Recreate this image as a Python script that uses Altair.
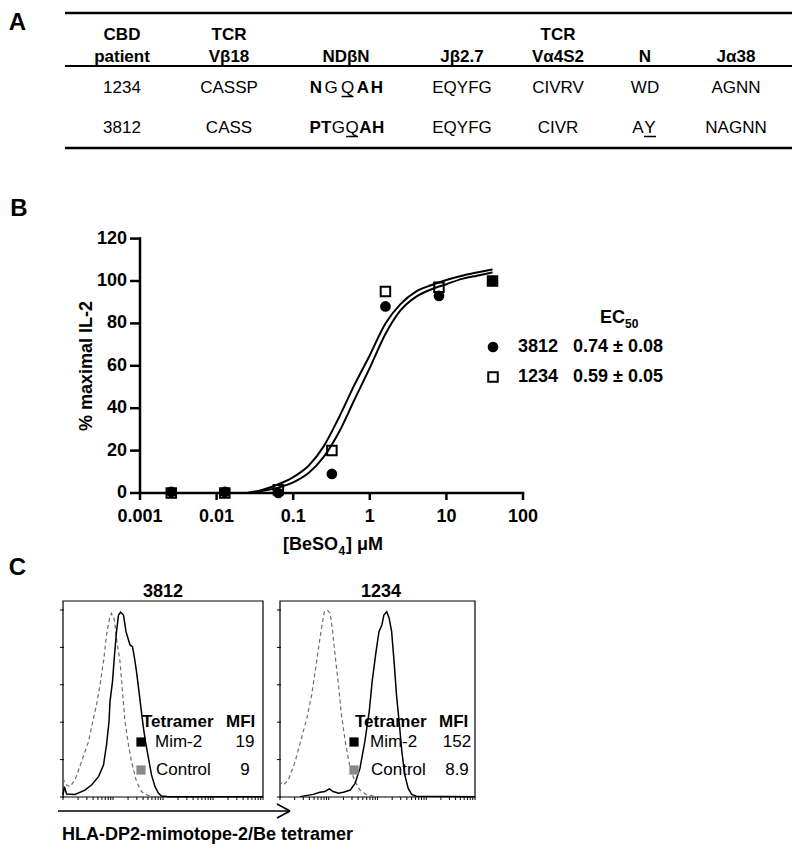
import altair as alt
import pandas as pd
import numpy as np

FONT = "Liberation Sans, Arial, Helvetica, sans-serif"
W, H = 784, 836
M = 8  # page margin


def px(v):
    return v - M


# ---------------- Panel A: table data ----------------
hdr_top = ["CBD", "TCR", "", "", "TCR", "", ""]
hdr_bot = ["patient", "Vβ18", "NDβN", "Jβ2.7", "Vα4S2", "N", "Jα38"]
row_patient = ["1234", "3812"]
row_vb18 = ["CASSP", "CASS"]
row_jb27 = ["EQYFG", "EQYFG"]
row_va4s2 = ["CIVRV", "CIVR"]
row_n = ["WD", "AY"]
row_ja38 = ["AGNN", "NAGNN"]
# rich cells: (character, bold, underlined)
nd_1234 = [("N", True, False), ("G", False, False), ("Q", False, True), ("A", True, False), ("H", True, False)]
nd_3812 = [("P", True, False), ("T", True, False), ("G", False, False), ("Q", False, True), ("A", True, False), ("H", True, False)]
n_3812 = [("A", False, False), ("Y", False, True)]

# ---------------- Panel B data ----------------
conc = [0.00256, 0.0128, 0.064, 0.32, 1.6, 8.0, 40.0]
il2_3812 = [0.5, 0.5, 0.0, 9, 88, 93, 100]
il2_1234 = [0.0, 0.0, 1.5, 20, 95, 97, 100]
fit_x_1234 = [0.025, 0.04, 0.063, 0.1, 0.16, 0.25, 0.4, 0.63, 1.0, 1.6, 2.5, 4.0, 6.3, 10, 16, 25, 40]
fit_y_1234 = [0, 1.5, 4, 7.5, 13, 22, 36, 51, 65, 80, 89, 95, 98, 100.5, 102.5, 104, 105.5]
fit_x_3812 = [0.03, 0.04, 0.063, 0.1, 0.16, 0.25, 0.4, 0.63, 1.0, 1.6, 2.5, 4.0, 6.3, 10, 16, 25, 40]
fit_y_3812 = [0, 1, 2.5, 5, 9.5, 17, 29, 44, 59, 75, 86, 92.5, 96, 98.5, 101, 102.5, 104]
xb_ticks = [0.001, 0.01, 0.1, 1, 10, 100]
xb_labels = ["0.001", "0.01", "0.1", "1", "10", "100"]
yb_ticks = [0, 20, 40, 60, 80, 100, 120]
ec_ids = ["3812", "1234"]
ec_vals = ["0.74 ± 0.08", "0.59 ± 0.05"]

# ---------------- Panel C data (log10 fluorescence, % of max) ----------------
h3812_mim_x = [0.0, 0.027, 0.073, 0.24, 0.44, 0.57, 0.71, 0.81, 0.87, 0.92, 0.94, 0.99, 1.03, 1.07, 1.11, 1.15, 1.21, 1.26, 1.34, 1.39, 1.43, 1.47, 1.52, 1.56, 1.61, 1.65, 1.71, 1.77, 1.84, 1.91, 1.97, 2.11, 4.0]
h3812_mim_y = [1.0, 5.5, 1.6, 1.4, 3.7, 6.4, 10.9, 17.1, 27.8, 40.3, 51.0, 61.7, 75.9, 88.4, 97.3, 98.8, 97.3, 88.4, 81.3, 80.4, 74.2, 67.0, 56.3, 47.4, 36.7, 29.6, 20.7, 11.8, 5.5, 2.0, 0.5, 0.2, 0.2]
h3812_ctl_x = [0.0, 0.027, 0.073, 0.14, 0.24, 0.37, 0.51, 0.61, 0.67, 0.74, 0.81, 0.87, 0.93, 0.97, 1.03, 1.07, 1.14, 1.19, 1.24, 1.31, 1.37, 1.47, 1.57, 1.71, 1.84, 4.0]
h3812_ctl_y = [10.0, 8.2, 6.4, 5.5, 9.1, 18.9, 29.6, 42.1, 49.2, 59.9, 72.4, 86.6, 95.5, 98.2, 94.7, 84.8, 72.4, 56.3, 40.3, 27.8, 18.9, 8.2, 2.9, 0.7, 0.2, 0.2]
h1234_ctl_x = [0.0, 0.0, 0.07, 0.17, 0.31, 0.44, 0.55, 0.65, 0.72, 0.79, 0.85, 0.91, 0.97, 1.03, 1.08, 1.13, 1.20, 1.26, 1.35, 1.44, 1.54, 1.64, 1.78, 1.98, 4.0]
h1234_ctl_y = [35.0, 8.2, 6.4, 9.1, 18.9, 31.4, 42.1, 54.5, 67.0, 79.5, 90.2, 99.1, 100.0, 98.2, 88.4, 75.9, 59.9, 43.9, 27.8, 15.3, 8.2, 3.7, 1.1, 0.2, 0.2]
h1234_mim_x = [0.41, 0.68, 0.82, 0.92, 1.01, 1.09, 1.20, 1.30, 1.44, 1.54, 1.64, 1.74, 1.83, 1.89, 1.97, 2.03, 2.09, 2.13, 2.19, 2.24, 2.29, 2.34, 2.39, 2.45, 2.50, 2.56, 2.63, 2.70, 2.80, 4.0]
h1234_mim_y = [0.2, 1.4, 2.5, 2.9, 4.3, 2.9, 2.0, 2.5, 3.7, 7.3, 15.3, 29.6, 45.6, 61.7, 77.7, 88.4, 92.0, 97.3, 99.1, 95.5, 88.4, 72.4, 54.5, 38.5, 24.2, 11.8, 4.6, 1.4, 0.4, 0.2]
yc_ticks = [0, 20, 40, 60, 80, 100]
tetramers = ["Mim-2", "Control"]
mfi_3812 = ["19", "9"]
mfi_1234 = ["152", "8.9"]
panel_c_titles = ["3812", "1234"]

ONE = alt.Data(values=[{"k": 0}])


def txt(text, x, y, size=17, weight="normal", align="center", color="black", angle=None, baseline="middle"):
    kw = dict(text=text, fontSize=size, fontWeight=weight, align=align,
              baseline=baseline, font=FONT, color=color)
    if angle is not None:
        kw["angle"] = angle
    return alt.Chart(ONE).mark_text(**kw).encode(x=alt.value(px(x)), y=alt.value(px(y)))


def rule(x1, y1, x2, y2, width=1.0, color="black"):
    return alt.Chart(ONE).mark_rule(strokeWidth=width, color=color).encode(
        x=alt.value(px(x1)), y=alt.value(px(y1)), x2=alt.value(px(x2)), y2=alt.value(px(y2)))


# ================= Panel A =================
colx = [122, 229, 346, 462, 558, 645, 736]
rowy = [35, 57, 88, 128]
XS_A = alt.Scale(domain=list(range(7)), range=[px(v) for v in colx], zero=False, nice=False)
YS_A = alt.Scale(domain=[0, 1, 2, 3], range=[px(v) for v in rowy], zero=False, nice=False)

rich = {(2, 2): nd_1234, (2, 3): nd_3812, (5, 3): n_3812}
rich_dx = {(2, 2): [-30, -15, 1.5, 17, 31],
           (2, 3): [-30.8, -19.7, -7.7, 6.1, 19.4, 32.2],
           (5, 3): [-7, 5]}

hdr_rows = []
for r, arr in ((0, hdr_top), (1, hdr_bot)):
    for c, t in enumerate(arr):
        if t:
            hdr_rows.append({"col": c, "row": r, "t": t})
hdr_df = pd.DataFrame(hdr_rows)

body_cols = {0: row_patient, 1: row_vb18, 3: row_jb27, 4: row_va4s2, 5: row_n, 6: row_ja38}
body_rows = []
for c, arr in body_cols.items():
    for i, t in enumerate(arr):
        if (c, i + 2) not in rich:
            body_rows.append({"col": c, "row": i + 2, "t": t})
body_df = pd.DataFrame(body_rows)

A_layers = [
    alt.Chart(hdr_df).mark_text(fontWeight="bold", fontSize=17, font=FONT, color="black").encode(
        x=alt.X("col:Q", scale=XS_A, axis=None), y=alt.Y("row:Q", scale=YS_A, axis=None), text="t:N"),
    alt.Chart(body_df).mark_text(fontSize=17, font=FONT, color="black").encode(
        x=alt.X("col:Q", scale=XS_A, axis=None), y=alt.Y("row:Q", scale=YS_A, axis=None), text="t:N"),
]
underlines = []
for (c, r), chars in rich.items():
    for (ch, bold, ul), dx in zip(chars, rich_dx[(c, r)]):
        df = pd.DataFrame([{"col": c, "row": r, "t": ch}])
        A_layers.append(
            alt.Chart(df).mark_text(fontSize=17, font=FONT, color="black", dx=dx,
                                    fontWeight="bold" if bold else "normal").encode(
                x=alt.X("col:Q", scale=XS_A, axis=None), y=alt.Y("row:Q", scale=YS_A, axis=None), text="t:N"))
        if ul:
            cx = colx[c] + dx
            underlines.append(rule(cx - 6, rowy[r] + 8.5, cx + 6, rowy[r] + 8.5, 1.5))
panelA = alt.layer(*A_layers)

# ================= Panel B =================
XS_B = alt.Scale(type="log", domain=[0.001, 100], range=[px(140), px(523)])
YS_B = alt.Scale(domain=[0, 120], range=[px(493), px(238.6)], zero=False, nice=False)


def bx(f):
    return alt.X(f, type="quantitative", scale=XS_B, axis=None)


def by(f):
    return alt.Y(f, type="quantitative", scale=YS_B, axis=None)


pts = pd.DataFrame({"c": conc, "y3812": il2_3812, "y1234": il2_1234})
fit1 = pd.DataFrame({"c": fit_x_1234, "y": fit_y_1234})
fit2 = pd.DataFrame({"c": fit_x_3812, "y": fit_y_3812})
xt = pd.DataFrame({"v": xb_ticks, "lab": xb_labels})
yt = pd.DataFrame({"v": yb_ticks, "lab": [str(v) for v in yb_ticks]})
xaxis_line = pd.DataFrame([{"a": xb_ticks[0], "b": xb_ticks[-1], "y": yb_ticks[0]}])
yaxis_line = pd.DataFrame([{"x": xb_ticks[0], "a": yb_ticks[0], "b": yb_ticks[-1]}])

B_layers = [
    # axes
    alt.Chart(xaxis_line).mark_rule(strokeWidth=2.5, color="black", strokeCap="square").encode(
        x=bx("a"), x2="b:Q", y=by("y")),
    alt.Chart(yaxis_line).mark_rule(strokeWidth=2.5, color="black", strokeCap="square").encode(
        x=bx("x"), y=by("a"), y2="b:Q"),
    alt.Chart(xt).mark_rule(strokeWidth=2.5, color="black").encode(
        x=bx("v"), y=alt.value(px(493)), y2=alt.value(px(500))),
    alt.Chart(xt).mark_text(font=FONT, fontSize=18, fontWeight="bold", color="black", baseline="middle").encode(
        x=bx("v"), y=alt.value(px(517)), text="lab:N"),
    alt.Chart(yt).mark_rule(strokeWidth=2.5, color="black").encode(
        y=by("v"), x=alt.value(px(130)), x2=alt.value(px(140))),
    alt.Chart(yt).mark_text(font=FONT, fontSize=18, fontWeight="bold", color="black", align="right",
                            baseline="middle").encode(
        y=by("v"), x=alt.value(px(127)), text="lab:N"),
    # fitted curves and data
    alt.Chart(fit1).mark_line(color="black", strokeWidth=2, interpolate="monotone").encode(x=bx("c"), y=by("y")),
    alt.Chart(fit2).mark_line(color="black", strokeWidth=2, interpolate="monotone").encode(x=bx("c"), y=by("y")),
    alt.Chart(pts).mark_point(shape="square", filled=False, color="black", strokeWidth=2, size=90, opacity=1).encode(
        x=bx("c"), y=by("y1234")),
    alt.Chart(pts).mark_point(shape="circle", filled=True, color="black", size=115, opacity=1).encode(
        x=bx("c"), y=by("y3812")),
]
panelB = alt.layer(*B_layers)

# ================= Panel C =================
YS_C = alt.Scale(domain=[0, 104.8], range=[px(797), px(601)], zero=False, nice=False)
xticks_c = [float(np.log10(k * 10 ** d)) for d in range(4) for k in range(1, 10)] + [4.0]


def hist_panel(x0, x1, mim_x, mim_y, ctl_x, ctl_y):
    xs = alt.Scale(domain=[0, 4], range=[px(x0), px(x1)], zero=False, nice=False)

    def cx(f):
        return alt.X(f, type="quantitative", scale=xs, axis=None)

    def cy(f):
        return alt.Y(f, type="quantitative", scale=YS_C, axis=None)

    frame = pd.DataFrame([{"a": 0, "b": 4, "c": 0, "d": 104.8}])
    mim = pd.DataFrame({"x": mim_x, "y": mim_y})
    ctl = pd.DataFrame({"x": ctl_x, "y": ctl_y})
    xtc = pd.DataFrame({"v": xticks_c})
    ytc = pd.DataFrame({"v": yc_ticks})
    return alt.layer(
        alt.Chart(frame).mark_rect(fill="white", stroke="black", strokeWidth=1.2).encode(
            x=cx("a"), x2="b:Q", y=cy("c"), y2="d:Q"),
        alt.Chart(xtc).mark_rule(strokeWidth=1, color="black").encode(
            x=cx("v"), y=alt.value(px(797)), y2=alt.value(px(800))),
        alt.Chart(ytc).mark_rule(strokeWidth=1, color="black").encode(
            y=cy("v"), x=alt.value(px(x0 - 3)), x2=alt.value(px(x0 + 1))),
        alt.Chart(ctl).mark_line(color="#6e6e6e", strokeWidth=1.2, strokeDash=[4, 3]).encode(
            x=cx("x"), y=cy("y")),
        alt.Chart(mim).mark_line(color="black", strokeWidth=1.5).encode(
            x=cx("x"), y=cy("y")),
    )


panelC1 = hist_panel(63, 263, h3812_mim_x, h3812_mim_y, h3812_ctl_x, h3812_ctl_y)
panelC2 = hist_panel(280, 475, h1234_mim_x, h1234_mim_y, h1234_ctl_x, h1234_ctl_y)

# ================= Annotations =================
ann = [
    txt("A", 17.5, 30, 24, "bold", baseline="alphabetic"),
    txt("B", 19, 216, 24, "bold", baseline="alphabetic"),
    txt("C", 17.5, 575, 24, "bold", baseline="alphabetic"),
    # table rules
    rule(65, 13, 792, 13, 2.5),
    rule(65, 66, 792, 66, 2),
    rule(65, 148, 792, 148, 2.5),
]
ann += underlines
# panel B axis titles and legend
ann += [
    txt("% maximal IL-2", 87, 366, 18, "bold", angle=270),
    txt("[BeSO", 283, 545, 18, "bold", align="left"),
    txt("4", 338.5, 551, 12, "bold", align="left"),
    txt("] μM", 346, 545, 18, "bold", align="left"),
    txt("EC", 600, 318, 18, "bold", align="left"),
    txt("50", 625, 324, 12, "bold", align="left"),
    alt.Chart(ONE).mark_point(shape="circle", filled=True, color="black", size=115, opacity=1).encode(
        x=alt.value(px(493)), y=alt.value(px(347))),
    alt.Chart(ONE).mark_point(shape="square", filled=False, color="black", strokeWidth=2, size=90, opacity=1).encode(
        x=alt.value(px(493)), y=alt.value(px(377))),
    txt(ec_ids[0], 518, 347, 18, "bold", align="left"),
    txt(ec_ids[1], 518, 377, 18, "bold", align="left"),
    txt(ec_vals[0], 573, 347, 18, "bold", align="left"),
    txt(ec_vals[1], 573, 377, 18, "bold", align="left"),
]
# panel C titles, legends, arrow
ann += [
    txt(panel_c_titles[0], 163, 592, 18, "bold"),
    txt(panel_c_titles[1], 381, 592, 18, "bold"),
]
for (lx, sqx, nx, mfix, vals) in ((142, 141, 155, 245, mfi_3812), (355, 354, 370, 457, mfi_1234)):
    ann += [
        txt("Tetramer", lx, 722, 17, "bold", align="left"),
        txt("MFI", lx + 84, 722, 17, "bold", align="left"),
        alt.Chart(ONE).mark_square(color="black", size=85, opacity=1).encode(x=alt.value(px(sqx)), y=alt.value(px(742))),
        alt.Chart(ONE).mark_square(color="#888888", size=85, opacity=1).encode(x=alt.value(px(sqx)), y=alt.value(px(770))),
        txt(tetramers[0], nx, 742, 17, "normal", align="left"),
        txt(tetramers[1], nx + 1, 770, 17, "normal", align="left"),
        txt(vals[0], mfix, 742, 17, "normal"),
        txt(vals[1], mfix, 770, 17, "normal"),
    ]
ann += [
    rule(58, 811, 290, 811, 1.5),
    rule(277, 804, 290, 811, 1.5),
    rule(277, 818, 290, 811, 1.5),
    txt("HLA-DP2-mimotope-2/Be tetramer", 62, 835, 18, "bold", align="left"),
]
annot = alt.layer(*ann)

chart = alt.layer(panelA, panelB, panelC1, panelC2, annot).resolve_scale(
    x="independent", y="independent"
).properties(
    width=W, height=H, autosize=alt.AutoSizeParams(type="none"), padding=0, background="white"
).configure_view(stroke=None)

chart.save("out.html", embed_options={"renderer": "svg", "actions": False})
